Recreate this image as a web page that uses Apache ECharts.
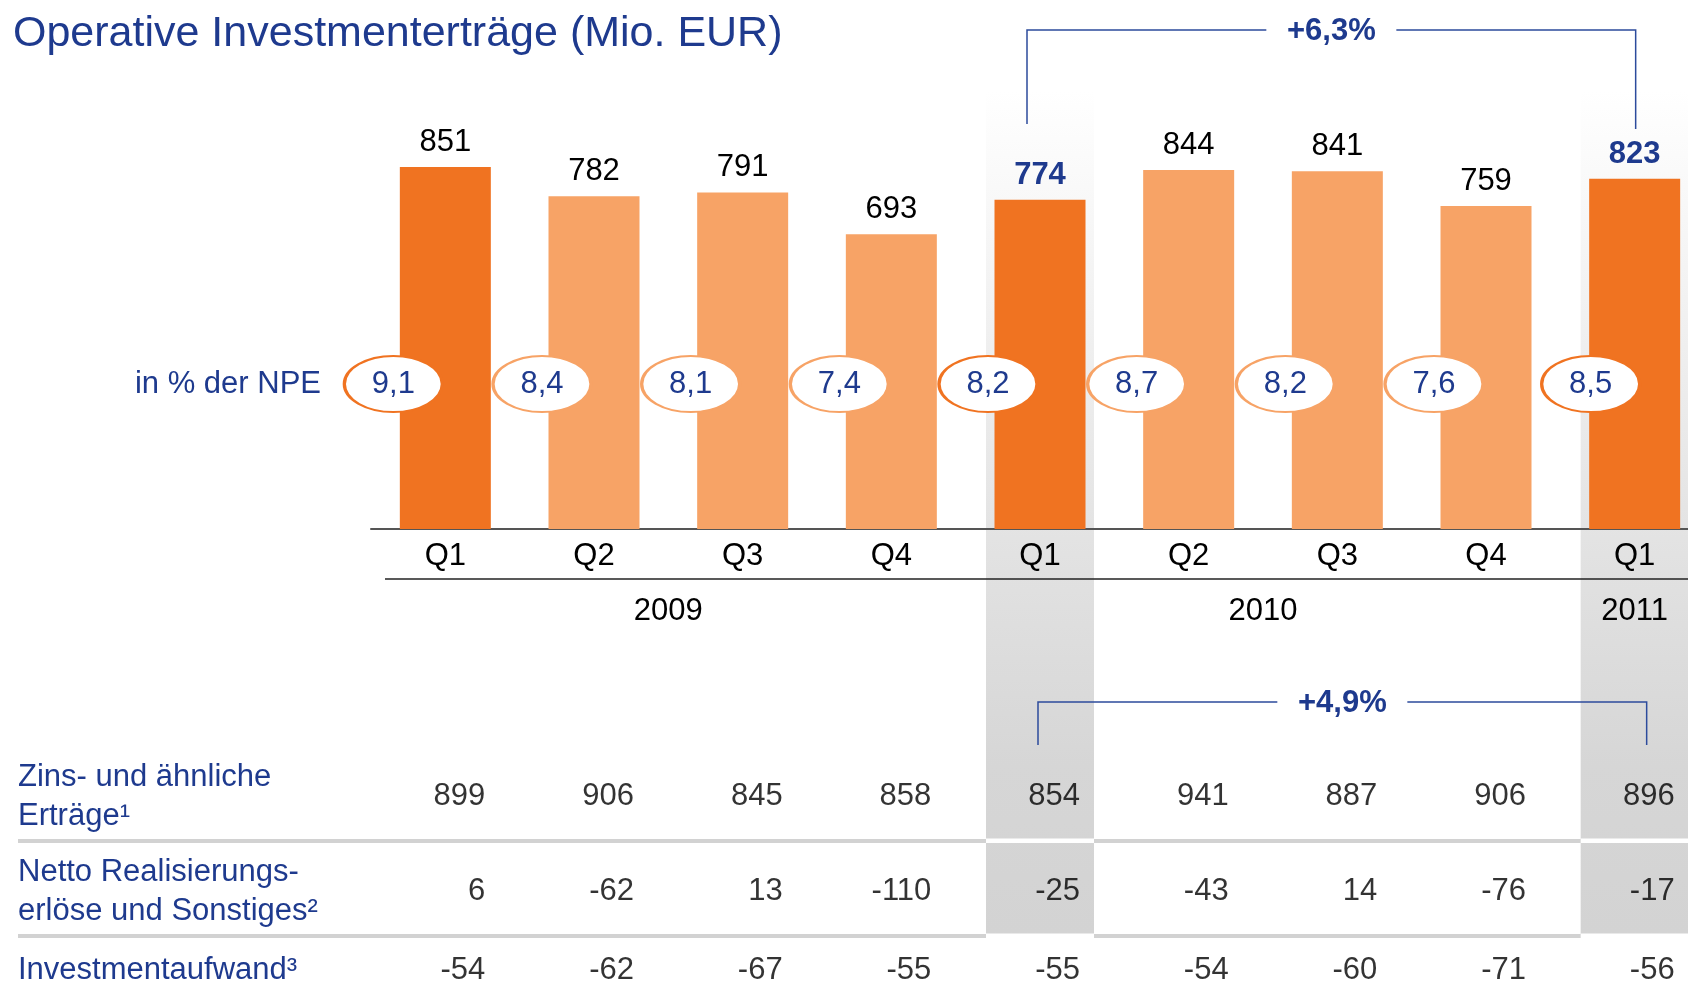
<!DOCTYPE html>
<html><head><meta charset="utf-8">
<script src="https://cdn.jsdelivr.net/npm/echarts@6/dist/echarts.min.js"></script>
<style>html,body{margin:0;padding:0;background:#fff}#c{width:1688px;height:983px}</style>
</head><body><div id="c"></div>
<script>
// ---------- data ----------
const titleText = 'Operative Investmenterträge (Mio. EUR)';
const quarters = ['Q1','Q2','Q3','Q4','Q1','Q2','Q3','Q4','Q1'];
const yearOfQuarter = ['2009','2009','2009','2009','2010','2010','2010','2010','2011'];
const operatingIncome = [851,782,791,693,774,844,841,759,823];
const npeLabel = 'in % der NPE';
const npePercent = [9.1,8.4,8.1,7.4,8.2,8.7,8.2,7.6,8.5];
const rowLabels = ['Zins- und ähnliche\nErträge¹','Netto Realisierungs-\nerlöse und Sonstiges²','Investmentaufwand³'];
const interestIncome = [899,906,845,858,854,941,887,906,896];
const netRealized = [6,-62,13,-110,-25,-43,14,-76,-17];
const investExpense = [-54,-62,-67,-55,-55,-54,-60,-71,-56];
const growthIncome = '+6,3%';
const growthInterest = '+4,9%';
const compareFrom = 4, compareTo = 8;

// ---------- styles ----------
const FONT = 'Liberation Sans, Arial, sans-serif';
const BLUE = '#1E3A8E';
const LINEBLUE = '#2C4B9C';
const DARK = '#F07321';
const LIGHT = '#F7A366';
const FS = 31;
const GRID_LEFT = 371, GRID_WIDTH = 1338;
const TABLE_SHIFT = 3;

const isQ1 = i => quarters[i] === 'Q1';
const highlighted = i => i === compareFrom || i === compareTo;

// year groups -> centers on a continuous axis
const years = [...new Set(yearOfQuarter)];
const yearCenters = years.map(y => {
  const idx = yearOfQuarter.map((v,i)=>v===y?i:-1).filter(i=>i>=0);
  return (idx[0] + idx[idx.length-1]) / 2;
});

const fmtComma = v => v.toFixed(1).replace('.', ',');
const tableRows = [interestIncome, netRealized, investExpense];

const chart = echarts.init(document.getElementById('c'), null, {renderer: 'canvas'});

const option = {
  animation: false,
  backgroundColor: '#fff',
  textStyle: {fontFamily: FONT},
  title: {
    text: titleText, left: 13, top: 13, padding: 0,
    textStyle: {fontSize: 43, color: BLUE, fontWeight: 'normal', fontFamily: FONT}
  },
  grid: [
    {left: GRID_LEFT, width: GRID_WIDTH, top: 103.5, height: 425.5, outerBoundsMode: 'none'},
    {left: GRID_LEFT, width: GRID_WIDTH, top: 356, height: 56, outerBoundsMode: 'none'},
    {left: GRID_LEFT, width: GRID_WIDTH, top: 746 + TABLE_SHIFT, height: 285, outerBoundsMode: 'none'}
  ],
  xAxis: [
    {type: 'category', gridIndex: 0, data: quarters,
     axisLine: {lineStyle: {color: '#555', width: 2}}, axisTick: {show: false},
     axisLabel: {fontSize: FS, color: '#000', margin: 12, fontFamily: FONT}},
    {type: 'value', gridIndex: 0, min: -0.5, max: 8.5, position: 'bottom', offset: 50,
     axisLine: {show: false}, axisTick: {show: false}, splitLine: {show: false},
     axisLabel: {customValues: yearCenters, fontSize: FS, color: '#000', margin: 17, fontFamily: FONT,
       formatter: v => { const k = yearCenters.indexOf(v); return k >= 0 ? years[k] : ''; }}},
    {type: 'category', gridIndex: 1, data: quarters, show: false},
    {type: 'category', gridIndex: 2, data: quarters, show: false}
  ],
  yAxis: [
    {type: 'value', gridIndex: 0, min: 0, max: 1000, show: false},
    {type: 'category', gridIndex: 1, data: [npeLabel],
     axisLine: {show: false}, axisTick: {show: false},
     axisLabel: {fontSize: FS, color: BLUE, margin: 50, fontFamily: FONT}},
    {type: 'category', gridIndex: 2, data: rowLabels, inverse: true,
     axisLine: {show: false}, axisTick: {show: false},
     axisLabel: {align: 'left', margin: GRID_LEFT - 18, fontSize: FS, color: BLUE, lineHeight: 39, fontFamily: FONT,
       formatter: (v, i) => i === 2 ? '{lift|' + v + '}' : v,
       rich: {lift: {fontSize: FS, color: BLUE, fontFamily: FONT, padding: [0, 0, 32, 0]}}}}
  ],
  series: [
    {type: 'bar', xAxisIndex: 0, yAxisIndex: 0, barWidth: 91, z: 2,
     data: operatingIncome.map((v, i) => {
       const d = {value: v, itemStyle: {color: isQ1(i) ? DARK : LIGHT}};
       if (highlighted(i)) d.label = {fontWeight: 'bold', color: BLUE};
       return d;
     }),
     label: {show: true, position: 'top', distance: 9, fontSize: FS, color: '#000', fontFamily: FONT},
     emphasis: {disabled: true}},
    {type: 'scatter', xAxisIndex: 2, yAxisIndex: 1, z: 4,
     symbol: 'circle', symbolSize: [98, 56],
     data: npePercent.map((v, i) => ({value: [i, 0, v],
       symbolOffset: [i === npePercent.length - 1 ? -44 : -52, 0],
       itemStyle: {color: '#fff', opacity: 1, borderColor: isQ1(i) ? DARK : LIGHT, borderWidth: 2.5}})),
     label: {show: true, position: 'inside', fontSize: FS, color: BLUE, fontFamily: FONT,
       formatter: p => fmtComma(p.value[2])},
     emphasis: {disabled: true}},
    ...tableRows.map((row, r) => ({
      type: 'scatter', xAxisIndex: 3, yAxisIndex: 2, z: 5,
      symbolSize: 1, itemStyle: {color: 'rgba(0,0,0,0)'},
      data: row.map((v, i) => [i, r, v]),
      label: {show: true, position: 'inside', align: 'right', offset: [40, r === 2 ? -16 : 0],
        fontSize: FS, color: '#000', fontFamily: FONT, formatter: p => String(p.value[2])},
      emphasis: {disabled: true}
    }))
  ]
};
chart.setOption(option);

// ---------- decorations positioned through the axes ----------
const cx = i => chart.convertToPixel({xAxisIndex: 0}, i);
const rowY = r => chart.convertToPixel({yAxisIndex: 2}, r);
const baseY = chart.convertToPixel({yAxisIndex: 0}, 0);
const sep1 = (rowY(0) + rowY(1)) / 2 - TABLE_SHIFT;
const sep2 = (rowY(1) + rowY(2)) / 2 - TABLE_SHIFT;
const BAND_TOP = 90, BAND_HALF = 54;

const g = [];
[compareFrom, compareTo].forEach(i => {
  const x = cx(i);
  g.push({type: 'rect', z: -1, shape: {x: x - BAND_HALF, y: BAND_TOP, width: BAND_HALF * 2, height: sep2 - 2 - BAND_TOP},
    style: {fill: {type: 'linear', x: 0, y: 0, x2: 0, y2: 1, colorStops: [
      {offset: 0, color: '#ffffff'}, {offset: 0.55, color: '#e2e2e2'}, {offset: 0.8, color: '#d6d6d6'}, {offset: 1, color: '#d3d3d3'}]}}});
});
[sep1, sep2].forEach(y => {
  g.push({type: 'rect', z: 1, shape: {x: 18, y: y - 2, width: 1670, height: 4}, style: {fill: '#d2d2d2'}});
  [compareFrom, compareTo].forEach(i => {
    g.push({type: 'rect', z: 1.5, shape: {x: cx(i) - BAND_HALF, y: y - 2.5, width: BAND_HALF * 2, height: 4.5}, style: {fill: '#fff'}});
  });
});
// second rule under quarter labels
g.push({type: 'line', z: 3, shape: {x1: 385, y1: baseY + 50, x2: 1688, y2: baseY + 50}, style: {stroke: '#222', lineWidth: 1.5}});

function bracket(xl, xr, y, ybl, ybr, text) {
  const mid = (xl + xr) / 2;
  g.push({type: 'polyline', z: 5, shape: {points: [[xl, ybl], [xl, y], [mid - 65, y]]}, style: {stroke: LINEBLUE, lineWidth: 1.5, fill: null}});
  g.push({type: 'polyline', z: 5, shape: {points: [[mid + 65, y], [xr, y], [xr, ybr]]}, style: {stroke: LINEBLUE, lineWidth: 1.5, fill: null}});
  g.push({type: 'text', z: 5, x: mid, y: y + 1, style: {text: text, fill: BLUE, font: 'bold ' + FS + 'px ' + FONT,
    align: 'center', verticalAlign: 'middle', textAlign: 'center', textVerticalAlign: 'middle'}});
}
bracket(cx(compareFrom) - 13, cx(compareTo) + 1, 30, 124, 129, growthIncome);
bracket(cx(compareFrom) - 2, cx(compareTo) + 12, 702, 745, 745, growthInterest);

chart.setOption({graphic: {elements: g}});
</script>
</body></html>
